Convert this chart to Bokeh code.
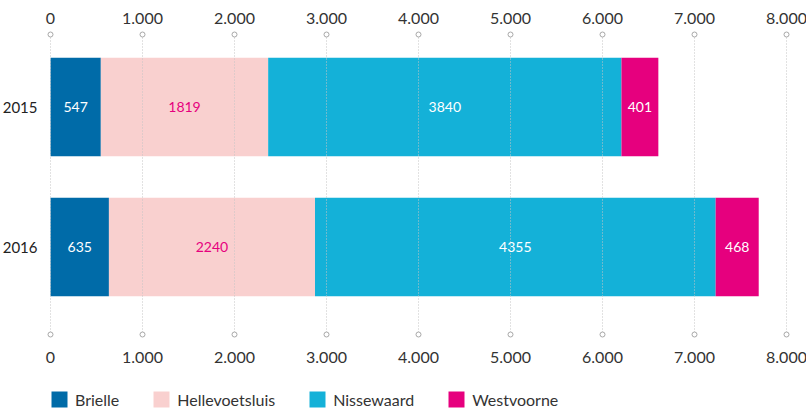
from bokeh.plotting import figure
from bokeh.models import ColumnDataSource, Range1d, Legend, LegendItem
from bokeh.core.properties import value
from bokeh.embed import file_html
from bokeh.resources import INLINE

# ---------------- data ----------------
years = ["2015", "2016"]
brielle = [547, 635]
hellevoetsluis = [1819, 2240]
nissewaard = [3840, 4355]
westvoorne = [401, 468]
series_names = ["Brielle", "Hellevoetsluis", "Nissewaard", "Westvoorne"]
tick_values = [0, 1000, 2000, 3000, 4000, 5000, 6000, 7000, 8000]
tick_labels = ["0", "1.000", "2.000", "3.000", "4.000", "5.000", "6.000", "7.000", "8.000"]

# ---------------- styles / layout ----------------
colors = ["#006ba8", "#f9d0cf", "#14b1d8", "#e6007e"]
label_colors = ["#ffffff", "#e6007e", "#ffffff", "#ffffff"]
FONT = "Lato"

W, H = 806, 409
ZERO_PX, MAX_PX = 50, 786          # canvas px of 0 and of 8000
scale = (MAX_PX - ZERO_PX) / 8000.0
x_start = -ZERO_PX / scale
x_end = (W - ZERO_PX) / scale

ROW_PX = 140.0
last_center_px = 246.5


def py(px):
    """canvas pixel row -> data y"""
    return (last_center_px - px) / ROW_PX


y_top, y_bot = py(0), py(H)
grid_top, grid_bot = py(34), py(334)
top_label_y, bottom_label_y = py(18), py(357)
bar_h = 98.5 / ROW_PX

ypos = [float(len(years) - 1 - i) for i in range(len(years))]

p = figure(width=W, height=H, output_backend="svg", toolbar_location=None,
           x_range=Range1d(x_start, x_end), y_range=Range1d(y_bot, y_top),
           x_axis_location=None, y_axis_location=None,
           min_border=0)
p.outline_line_color = None
p.grid.visible = False

data = dict(y=ypos, Brielle=brielle, Hellevoetsluis=hellevoetsluis,
            Nissewaard=nissewaard, Westvoorne=westvoorne)
src = ColumnDataSource(data)
renderers = p.hbar_stack(series_names, y="y", height=bar_h, color=colors,
                         line_color=None, source=src)

# dotted grid lines with small end circles
n = len(tick_values)
p.segment(x0=tick_values, x1=tick_values, y0=[grid_top] * n, y1=[grid_bot] * n,
          line_color="#c4c4c4", line_width=1, line_dash="1 2")
p.scatter(x=tick_values * 2, y=[grid_top] * n + [grid_bot] * n,
          marker="circle", size=5, fill_color="white", line_color="#a8a8a8", line_width=1)

# tick labels above and below
p.text(x=tick_values * 2, y=[top_label_y] * n + [bottom_label_y] * n, text=tick_labels * 2,
       text_align="center", text_baseline="middle", text_font=value(FONT),
       text_font_size="16px", text_color="#333333")

# segment value labels
series_vals = [brielle, hellevoetsluis, nissewaard, westvoorne]
cum = [0] * len(years)
lx, ly, lt, lc = [], [], [], []
for vals, col in zip(series_vals, label_colors):
    for i, v in enumerate(vals):
        lx.append(cum[i] + v / 2.0)
        ly.append(ypos[i])
        lt.append(str(v))
        lc.append(col)
        cum[i] += v
p.text(x=lx, y=ly, text=lt, text_color=lc, text_align="center",
       text_baseline="middle", text_font=value(FONT), text_font_size="14px")

# year labels
p.text(x=[0] * len(years), y=ypos, text=years, x_offset=-13, text_align="right",
       text_baseline="middle", text_font=value(FONT), text_font_size="15px",
       text_color="#222222")

legend = Legend(items=[LegendItem(label=nm, renderers=[r]) for nm, r in zip(series_names, renderers)],
                orientation="horizontal", location=(49, 0),
                glyph_width=20, glyph_height=20, label_standoff=6, spacing=32,
                padding=0, margin=0, border_line_color=None, background_fill_alpha=0,
                label_text_font=FONT, label_text_font_size="16px",
                label_text_color="#333333", label_height=20)
p.add_layout(legend, "center")

open("out.html", "w").write(file_html(p, INLINE))
